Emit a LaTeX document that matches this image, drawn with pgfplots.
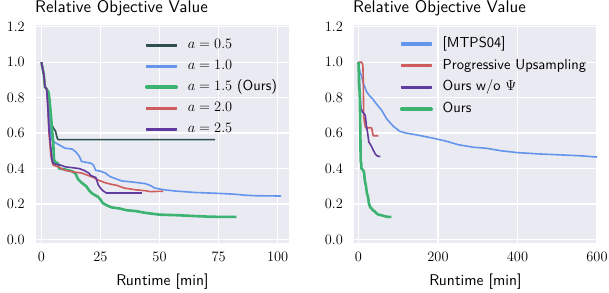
\documentclass[border=0pt]{standalone}
\usepackage{fontspec}
\setsansfont{lmsans10-regular}[Extension=.otf]
\usepackage{pgfplots}
\pgfplotsset{compat=1.18}
\definecolor{bg}{HTML}{EAEAF2}
\definecolor{cdark}{HTML}{2F4F4F}
\definecolor{cblue}{HTML}{6495ED}
\definecolor{cgreen}{HTML}{3CB371}
\definecolor{cred}{HTML}{CD5C5C}
\definecolor{cpurple}{HTML}{603A9E}
\pgfplotsset{legend image code/.code={\fill[#1] (0pt,-0.8pt) rectangle (30pt,0.8pt); \draw[#1] (0pt,0pt) -- (30pt,0pt);}}
\pgfplotsset{
 myax/.style={
  scale only axis, height=218pt,
  axis background/.style={fill=bg},
  axis line style={draw=none},
  major tick length=0pt,
  grid=major, major grid style={white, line width=1.3pt},
  ymin=-0.02, ymax=1.21,
  ytick={0,0.2,0.4,0.6,0.8,1.0,1.2},
  yticklabel style={/pgf/number format/fixed, /pgf/number format/fixed zerofill, /pgf/number format/precision=1},
  ticklabel style={font=\fontsize{13.8}{16}\selectfont, inner sep=0pt},
  yticklabel style={anchor=east, xshift=-11pt},
  xticklabel style={anchor=center, yshift=-14pt},
  xlabel style={font=\sffamily\fontsize{15.5}{18}\selectfont, at={(axis description cs:0.5,0)}, anchor=base, yshift=-42pt, inner sep=0pt},
  title style={font=\sffamily\fontsize{16.9}{19}\selectfont, at={(axis description cs:0,1)}, anchor=base west, yshift=6.7pt, xshift=-1pt, inner sep=0pt},
  legend style={draw=none, fill=none, inner sep=0pt, column sep=10pt, row sep=8pt,
    font=\sffamily\fontsize{14.5}{17}\selectfont,
    nodes={inner sep=0pt, text height=10pt, text depth=3pt}, anchor=north west},
  legend cell align=left,
  every axis plot/.append style={line join=round, line width=1.6pt},
 }
}
\begin{document}
\begin{tikzpicture}
\useasboundingbox (0,0) rectangle (609pt,292pt);
\begin{axis}[myax, at={(36pt,49pt)}, anchor=south west, width=253pt,
  xmin=-2.3, xmax=104.8, xtick={0,25,50,75,100},
  title={Relative Objective Value}, xlabel={Runtime [min]},
  legend style={at={(axis description cs:0.431,0.938)}}]
\addplot[cdark] coordinates {(0,1.0)(1,0.93)(1.5,0.86)(2.2,0.85)(3,0.82)(3.5,0.75)(4,0.68)(4.6,0.64)(5.5,0.62)(6,0.61)(6.5,0.58)(7,0.563)(73.5,0.563)};
\addlegendentry{$a=0.5$}
\addplot[cblue] coordinates {(0,1.0)(1,0.93)(1.5,0.86)(2.2,0.85)(2.8,0.80)(3.3,0.70)(3.8,0.60)(4.5,0.56)(6,0.545)(8,0.53)(10,0.515)(13,0.51)(14.5,0.495)(16,0.47)(17,0.44)(19,0.435)(21,0.43)(22,0.42)(23,0.39)(25,0.385)(27,0.375)(29,0.355)(32,0.34)(34,0.33)(38,0.325)(44,0.315)(46,0.305)(48,0.29)(52,0.28)(57,0.273)(65,0.265)(75,0.26)(82,0.255)(86,0.25)(90,0.247)(101.5,0.245)};
\addlegendentry{$a=1.0$}
\addplot[cgreen, line width=2.6pt] coordinates {(0,1.0)(1,0.93)(1.5,0.86)(2.2,0.85)(3,0.83)(3.5,0.78)(4,0.70)(4.5,0.62)(5,0.55)(5.3,0.45)(6,0.435)(7,0.43)(7.5,0.40)(10,0.395)(13,0.385)(14.5,0.37)(15.5,0.34)(17,0.32)(19,0.30)(20,0.28)(21,0.265)(22,0.255)(24,0.24)(25,0.225)(26,0.205)(28,0.19)(30,0.18)(33,0.175)(36,0.165)(40,0.16)(44,0.15)(50,0.14)(57,0.137)(65,0.132)(72,0.128)(82.5,0.127)};
\addlegendentry{$a=1.5$ (Ours)}
\addplot[cred] coordinates {(0,1.0)(1,0.93)(1.5,0.86)(2.2,0.85)(2.7,0.75)(3.2,0.60)(4,0.47)(4.5,0.44)(5,0.42)(7,0.41)(10,0.39)(14,0.38)(17,0.375)(20,0.36)(22,0.35)(24,0.335)(27,0.32)(30,0.31)(32,0.305)(35,0.29)(40,0.28)(44,0.275)(46,0.27)(51.5,0.272)};
\addlegendentry{$a=2.0$}
\addplot[cpurple] coordinates {(0,1.0)(1,0.93)(1.5,0.86)(2.2,0.85)(2.7,0.75)(3.2,0.62)(3.6,0.57)(4.5,0.45)(5,0.43)(6,0.425)(8,0.42)(10,0.41)(13,0.405)(16,0.40)(18,0.39)(20,0.375)(21,0.36)(23,0.35)(24,0.31)(25,0.29)(26,0.275)(27.5,0.262)(42.5,0.262)};
\addlegendentry{$a=2.5$}
\end{axis}
\begin{axis}[myax, at={(354pt,49pt)}, anchor=south west, width=243pt,
  xmin=-11.3, xmax=600, xtick={0,200,400,600},
  title={Relative Objective Value}, xlabel={Runtime [min]},
  legend style={at={(axis description cs:0.189,0.944)}, row sep=8.7pt}]
\addplot[cblue] coordinates {(0,1.0)(3,0.95)(8,0.92)(12,0.88)(16,0.86)(20,0.835)(28,0.81)(35,0.795)(45,0.765)(58,0.73)(71,0.68)(87,0.64)(104,0.61)(120,0.6)(146,0.59)(180,0.575)(200,0.565)(220,0.555)(250,0.535)(290,0.52)(320,0.515)(360,0.50)(400,0.49)(450,0.483)(500,0.478)(560,0.472)(600,0.465)};
\addlegendentry{[MTPS04]}
\addplot[cred] coordinates {(0,1.0)(8,1.0)(11,0.985)(12,0.90)(13,0.70)(15,0.66)(18,0.63)(33,0.63)(37,0.585)(50,0.585)};
\addlegendentry{Progressive Upsampling}
\addplot[cpurple] coordinates {(0,1.0)(3,0.85)(6,0.74)(10,0.72)(14,0.71)(17,0.70)(20,0.64)(23,0.60)(26,0.55)(30,0.535)(34,0.52)(38,0.50)(43,0.48)(48,0.47)(55,0.468)};
\addlegendentry{Ours w/o $\Psi$}
\addplot[cgreen, line width=2.6pt] coordinates {(0,1.0)(1,0.93)(1.5,0.86)(2.2,0.85)(3,0.83)(3.5,0.78)(4,0.70)(4.5,0.62)(5,0.55)(5.3,0.45)(6,0.435)(7,0.43)(7.5,0.40)(10,0.395)(13,0.385)(14.5,0.37)(15.5,0.34)(17,0.32)(19,0.30)(20,0.28)(21,0.265)(22,0.255)(24,0.24)(25,0.225)(26,0.205)(28,0.19)(30,0.18)(33,0.175)(36,0.165)(40,0.16)(44,0.15)(50,0.14)(57,0.137)(65,0.132)(72,0.128)(82.5,0.127)};
\addlegendentry{Ours}
\end{axis}
\end{tikzpicture}
\end{document}
